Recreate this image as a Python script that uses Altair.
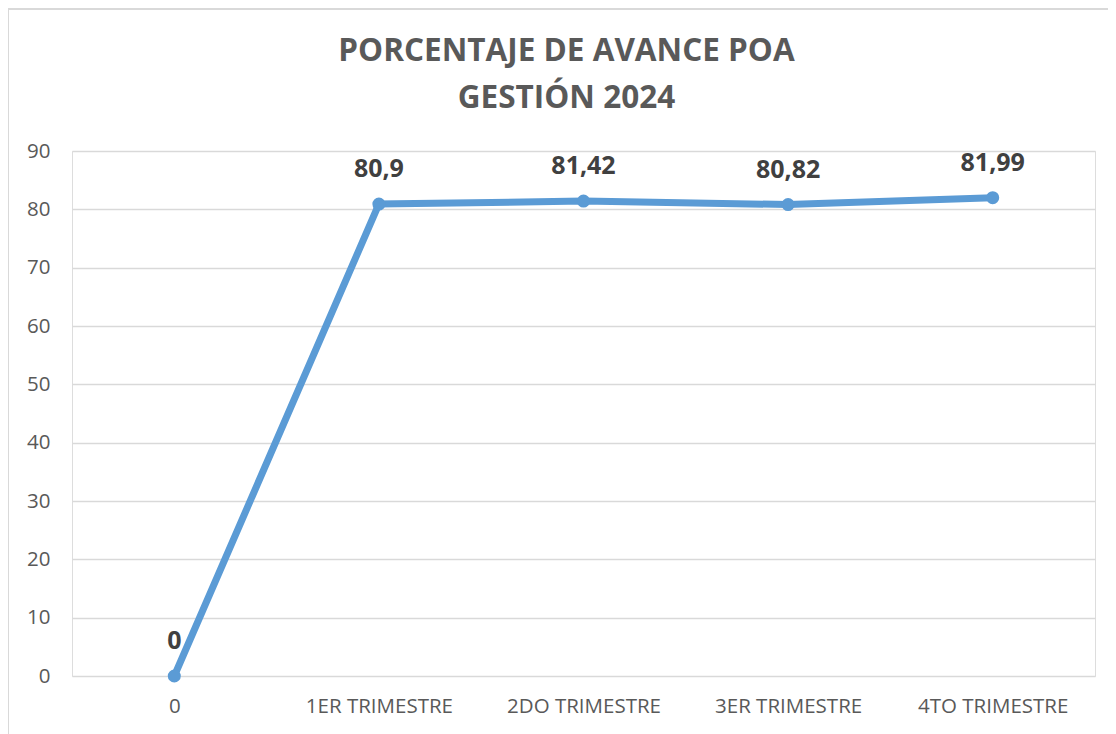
import altair as alt
import pandas as pd

categories = ["0", "1ER TRIMESTRE", "2DO TRIMESTRE", "3ER TRIMESTRE", "4TO TRIMESTRE"]
values = [0, 80.9, 81.42, 80.82, 81.99]
y_ticks = [0, 10, 20, 30, 40, 50, 60, 70, 80, 90]

df = pd.DataFrame({"cat": categories, "v": values})

W, H = 1023, 525
LINE = "#5B9BD5"
GRAY = "#595959"

x = alt.X("cat:N", sort=categories, title=None,
          scale=alt.Scale(paddingInner=0, paddingOuter=0.0),
          axis=alt.Axis(labelAngle=0, labelFontSize=20.5, labelColor=GRAY, labelFont="Open Sans",
                        labelPadding=20, ticks=False, domain=False, grid=False))
y = alt.Y("v:Q", title=None,
          scale=alt.Scale(domain=[0, 90], nice=False),
          axis=alt.Axis(values=y_ticks, labelFontSize=20.5, labelColor=GRAY, labelFont="Open Sans",
                        labelPadding=22, ticks=False, domain=False, grid=True,
                        gridColor="#D9D9D9", gridWidth=1.3))

base = alt.Chart(df)

border = base.mark_rect(fill=None, stroke="#D9D9D9", strokeWidth=1.5, clip=False).encode(
    x=alt.value(-64), x2=alt.value(W + 200), y=alt.value(-142), y2=alt.value(H + 200)
)

line = base.mark_line(color=LINE, strokeWidth=7, strokeCap="round").encode(x=x, y=y)
pts = base.mark_circle(color=LINE, size=170, opacity=1).encode(x=x, y=y)
labels = base.transform_calculate(
    lbl="replace(toString(datum.v), '.', ',')"
).mark_text(dy=-35, fontSize=25, fontWeight="bold", color="#404040", font="Open Sans").encode(
    x=x, y=y, text="lbl:N"
)

chart = alt.layer(border, line, pts, labels).properties(
    width=W, height=H,
    title=alt.Title(["PORCENTAJE DE AVANCE POA", "GESTIÓN 2024"], fontSize=31.5, fontWeight="bold",
                    color=GRAY, font="Open Sans", lineHeight=47, anchor="middle", dx=-17, offset=-106),
    autosize=alt.AutoSizeParams(type="none"),
    padding={"left": 64, "top": 143, "right": 13, "bottom": 58},
).configure_view(stroke=None).configure(background="white")

chart.save("out.html", embed_options={"renderer": "svg", "actions": False})
